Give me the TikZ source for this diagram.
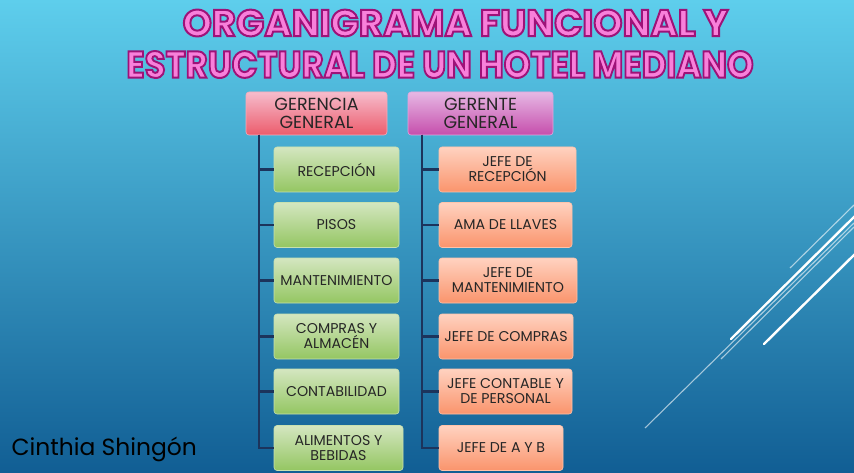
\documentclass[tikz,border=0pt]{standalone}
\usepackage{fontspec}
\newfontfamily\gothic{Poppins}
\definecolor{bgtop}{RGB}{94,206,236}
\definecolor{bgmid}{RGB}{55,152,198}
\definecolor{bgbot}{RGB}{17,94,148}
\definecolor{tpink}{RGB}{248,128,218}
\definecolor{navy}{RGB}{28,52,92}
% pink letters with a dark magenta rim
\newcommand\rimtext[1]{\special{pdf:literal direct 2 Tr 2 w 0.62 0.07 0.47 RG}#1\special{pdf:literal direct 0 Tr}}

\begin{document}
\begin{tikzpicture}[x=1pt,y=-1pt,
    every node/.style={font=\gothic},
    box/.style={rounded corners=3pt, align=center, inner sep=0pt,
      minimum height=45pt, text=black!85, line width=0.6pt,
      font=\gothic\fontsize{14.2}{15}\selectfont},
    head/.style={box, minimum height=43pt, font=\gothic\fontsize{17.5}{18}\selectfont},
    cpink/.style={head, top color={rgb,255:red,246;green,188;blue,204},
      bottom color={rgb,255:red,236;green,92;blue,108}, draw={rgb,255:red,248;green,170;blue,185}},
    cpurple/.style={head, top color={rgb,255:red,230;green,184;blue,228},
      bottom color={rgb,255:red,198;green,78;blue,172}, draw={rgb,255:red,225;green,165;blue,220}},
    cgreen/.style={box, minimum width=125pt, top color={rgb,255:red,212;green,230;blue,192},
      bottom color={rgb,255:red,148;green,198;blue,98}, draw={rgb,255:red,200;green,225;blue,175}},
    corange/.style={box, top color={rgb,255:red,255;green,210;blue,192},
      bottom color={rgb,255:red,250;green,148;blue,108}, draw={rgb,255:red,255;green,195;blue,170}},
    titletxt/.style={text=tpink, inner sep=0pt, font=\gothic\bfseries\fontsize{37.5}{40}\selectfont},
    link/.style={draw=navy, line width=2.2pt},
    streak/.style={white, line width=2.4pt, line cap=round},
    thin/.style={white, opacity=0.6, line width=1.1pt}]
  \useasboundingbox (0,0) rectangle (854,473);
  % background
  \fill[top color=bgtop, middle color=bgmid, bottom color=bgbot] (0,0) rectangle (854,473);
  \draw[thin] (790,268) -- (854,205);
  \draw[thin] (645,428) -- (854,223);
  \draw[thin] (721,359) -- (854,227);
  \draw[streak] (731,339) -- (856,215);
  \draw[streak] (764,344) -- (856,253);

  % title
  \node[titletxt] (t1) at (455.5,23) {\scalebox{0.99}[1]{\rimtext{ORGANIGRAMA FUNCIONAL Y}}};
  \node[titletxt] (t2) at (440,64.5) {\scalebox{0.905}[1]{\rimtext{ESTRUCTURAL DE UN HOTEL MEDIANO}}};

  % heads
  \node[cpink, minimum width=141pt] (gg) at (316.5,113.5) {GERENCIA\\GENERAL};
  \node[cpurple, minimum width=145pt] (ge) at (480.5,113.5) {GERENTE\\GENERAL};

  % left column
  \node[cgreen] (rec) at (336.5,169.5) {RECEPCIÓN};
  \node[cgreen] (pis) at (336.5,225) {PISOS};
  \node[cgreen] (man) at (336.5,280.5) {MANTENIMIENTO};
  \node[cgreen] (com) at (336.5,336.5) {COMPRAS Y\\ALMACÉN};
  \node[cgreen] (con) at (336.5,391.5) {CONTABILIDAD};
  \node[cgreen, minimum width=129pt] (ali) at (338.5,448) {ALIMENTOS Y\\BEBIDAS};

  % right column
  \node[corange, minimum width=137pt] (jrec) at (507.5,169.5) {JEFE DE\\RECEPCIÓN};
  \node[corange, minimum width=133pt] (ama) at (505.5,225) {AMA DE LLAVES};
  \node[corange, minimum width=138pt] (jman) at (508,280.5) {JEFE DE\\MANTENIMIENTO};
  \node[corange, minimum width=134pt] (jcom) at (506,336.5) {JEFE DE COMPRAS};
  \node[corange, minimum width=133pt] (jcon) at (505.5,391.5) {JEFE CONTABLE Y\\DE PERSONAL};
  \node[corange, minimum width=124pt] (jab) at (501,448) {JEFE DE A Y B};

  \coordinate (lroot) at (259,135);
  \coordinate (rroot) at (422,135);
  \foreach \n in {rec,pis,man,com,con,ali}
    \draw[link] (lroot) |- (\n.west);
  \foreach \n in {jrec,ama,jman,jcom,jcon,jab}
    \draw[link] (rroot) |- (\n.west);

  \node[anchor=base west, text=black, font=\gothic\fontsize{23.4}{25}\selectfont] (autor) at (8,455.5) {Cinthia Shingón};
\end{tikzpicture}
\end{document}
